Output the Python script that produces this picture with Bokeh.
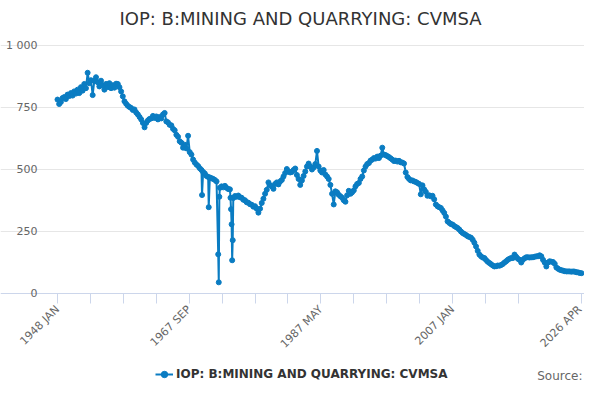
import math
from bokeh.plotting import figure
from bokeh.models import Range1d, FixedTicker, Legend, LegendItem, Label
from bokeh.embed import file_html
from bokeh.resources import INLINE

TITLE = "IOP: B:MINING AND QUARRYING: CVMSA"
SERIES_NAME = "IOP: B:MINING AND QUARRYING: CVMSA"
SOURCE_TEXT = "Source:"
START_YEAR = 1948

# Quarterly readings (Jan, Apr, Jul, Oct) from 1948 JAN to 2026 APR
quarterly_values = [
    782, 764, 772, 788,   # 1948
    792, 784, 802, 796,   # 1949
    808, 798, 815, 806,   # 1950
    822, 808, 832, 818,   # 1951
    845, 828, 890, 848,   # 1952
    860, 800, 858, 872,   # 1953
    852, 835, 858, 840,   # 1954
    822, 845, 832, 848,   # 1955
    828, 840, 830, 846,   # 1956
    845, 832, 815, 795,   # 1957
    775, 765, 757, 752,   # 1958
    748, 740, 742, 730,   # 1959
    722, 712, 702, 688,   # 1960
    670, 688, 698, 704,   # 1961
    706, 716, 708, 714,   # 1962
    702, 712, 706, 722,   # 1963
    728, 694, 690, 680,   # 1964
    678, 664, 658, 640,   # 1965
    632, 614, 608, 588,   # 1966
    600, 585, 636, 570,   # 1967
    560, 540, 528, 520,   # 1968
    514, 505, 498, 490,   # 1969
    484, 474, 470, 468,   # 1970
    465, 462, 458, 452,   # 1971
    158, 426, 432, 428,   # 1972
    434, 426, 421, 420,   # 1973
    279, 385, 393, 390,   # 1974
    395, 388, 386, 378,   # 1975
    376, 368, 366, 360,   # 1976
    358, 350, 352, 342,   # 1977
    326, 342, 365, 382,   # 1978
    402, 418, 448, 436,   # 1979
    432, 422, 442, 448,   # 1980
    440, 452, 458, 472,   # 1981
    486, 502, 492, 488,   # 1982
    490, 498, 504, 478,   # 1983
    462, 438, 456, 474,   # 1984
    492, 512, 524, 512,   # 1985
    500, 508, 522, 575,   # 1986
    512, 496, 488, 498,   # 1987
    480, 472, 462, 438,   # 1988
    402, 359, 412, 408,   # 1989
    398, 392, 386, 376,   # 1990
    370, 396, 414, 402,   # 1991
    408, 416, 432, 442,   # 1992
    446, 462, 472, 496,   # 1993
    512, 522, 526, 536,   # 1994
    540, 546, 544, 552,   # 1995
    546, 556, 588, 560,   # 1996
    558, 554, 550, 545,   # 1997
    540, 534, 536, 532,   # 1998
    535, 529, 528, 524,   # 1999
    488, 470, 462, 456,   # 2000
    456, 452, 450, 446,   # 2001
    442, 400, 436, 420,   # 2002
    410, 394, 396, 392,   # 2003
    394, 380, 359, 352,   # 2004
    348, 345, 335, 325,   # 2005
    310, 291, 285, 280,   # 2006
    278, 272, 268, 264,   # 2007
    258, 250, 244, 240,   # 2008
    236, 231, 228, 225,   # 2009
    217, 205, 190, 172,   # 2010
    157, 150, 145, 143,   # 2011
    135, 128, 123, 118,   # 2012
    113, 109, 110, 113,   # 2013
    112, 115, 119, 125,   # 2014
    130, 136, 140, 143,   # 2015
    143, 157, 148, 140,   # 2016
    136, 125, 136, 142,   # 2017
    146, 146, 145, 146,   # 2018
    146, 148, 150, 150,   # 2019
    154, 150, 136, 125,   # 2020
    109, 125, 130, 128,   # 2021
    127, 120, 105, 100,   # 2022
    96, 94, 92, 90,       # 2023
    89, 89, 89, 88,       # 2024
    89, 88, 86, 85,       # 2025
    83, 82,               # 2026
]

# Extra monthly readings around the strike months
detail_dates = ["1969-08", "1970-08", "1972-02", "1972-03",
                "1973-11", "1973-12", "1974-02", "1974-03"]
detail_values = [397, 348, 45, 390, 386, 340, 134, 215]

month_names = ["JAN", "FEB", "MAR", "APR", "MAY", "JUN",
               "JUL", "AUG", "SEP", "OCT", "NOV", "DEC"]
x_label_dates = ["1948 JAN", "1967 SEP", "1987 MAY", "2007 JAN", "2026 APR"]
x_tick_step = 59
y_ticks = [0, 250, 500, 750, 1000]
y_tick_labels = ["0", "250", "500", "750", "1 000"]

COLOR = "#0a7cc2"
FONT = "DejaVu Sans"

# ---- layout (figure pixels, top-left origin); frame fills the figure ----
FIG_W, FIG_H = 584, 384
PLOT_LEFT_PX, PLOT_RIGHT_PX = 57, 581       # first / last month
PLOT_TOP_PX, PLOT_ZERO_PX = 45, 293         # value 1000 / value 0


def month_index(year, month):
    return (year - START_YEAR) * 12 + (month - 1)


series = {3 * i: v for i, v in enumerate(quarterly_values)}
for d, v in zip(detail_dates, detail_values):
    yr, mo = d.split("-")
    series[month_index(int(yr), int(mo))] = v
xs = sorted(series)
ys = [series[k] for k in xs]
last_idx = 3 * (len(quarterly_values) - 1)

px_per_month = (PLOT_RIGHT_PX - PLOT_LEFT_PX) / last_idx
px_per_unit = (PLOT_ZERO_PX - PLOT_TOP_PX) / 1000.0
x_lo = -PLOT_LEFT_PX / px_per_month
x_hi = last_idx + (FIG_W - PLOT_RIGHT_PX) / px_per_month
y_lo = -(FIG_H - PLOT_ZERO_PX) / px_per_unit
y_hi = PLOT_ZERO_PX / px_per_unit

label_idx = []
for s in x_label_dates:
    yr, mn = s.split()
    label_idx.append(month_index(int(yr), month_names.index(mn) + 1))
x_ticks = list(range(0, last_idx - x_tick_step + 1, x_tick_step)) + [last_idx]
x_overrides = {t: "" for t in x_ticks}
for t, s in zip(label_idx, x_label_dates):
    x_overrides[t] = s

p = figure(frame_width=FIG_W, frame_height=FIG_H,
           x_range=Range1d(x_lo, x_hi), y_range=Range1d(y_lo, y_hi),
           output_backend="svg", toolbar_location=None,
           min_border_left=0, min_border_right=0,
           min_border_top=0, min_border_bottom=0)
p.title.visible = False
p.outline_line_color = None
p.background_fill_color = "white"
p.border_fill_color = "white"

xa = p.xaxis[0]
xa.fixed_location = 0
xa.ticker = FixedTicker(ticks=x_ticks)
xa.major_label_overrides = x_overrides
xa.major_label_orientation = math.pi / 4
xa.major_label_text_font = FONT
xa.major_label_text_font_size = "11px"
xa.major_label_text_color = "#666666"
xa.axis_line_color = "#ccd6eb"
xa.major_tick_line_color = "#ccd6eb"
xa.major_tick_in = 0
xa.major_tick_out = 10
xa.minor_tick_line_color = None
xa.major_label_standoff = 4

ya = p.yaxis[0]
ya.fixed_location = 0
ya.ticker = FixedTicker(ticks=y_ticks)
ya.major_label_overrides = {t: s for t, s in zip(y_ticks, y_tick_labels)}
ya.major_label_text_font = FONT
ya.major_label_text_font_size = "11px"
ya.major_label_text_color = "#666666"
ya.axis_line_color = None
ya.major_tick_line_color = None
ya.minor_tick_line_color = None
ya.major_label_standoff = 14

p.xgrid.grid_line_color = None
p.ygrid.grid_line_color = "#e6e6e6"
p.ygrid.ticker = FixedTicker(ticks=y_ticks[1:])
p.ygrid.bounds = (0, last_idx)

ln = p.line(xs, ys, line_color=COLOR, line_width=2)
sc = p.scatter(xs, ys, size=5, fill_color=COLOR, line_color=COLOR)

# title, legend and source in frame-relative screen units (y up from bottom)
title = Label(x=300, y=FIG_H - 18,
              x_units="screen", y_units="screen", text=TITLE,
              text_align="center", text_baseline="middle",
              text_font=FONT, text_font_size="18px", text_color="#333333")
p.add_layout(title)

legend = Legend(items=[LegendItem(label=SERIES_NAME, renderers=[ln, sc])],
                location=(155, FIG_H - 384),
                orientation="horizontal",
                border_line_color=None, background_fill_alpha=0,
                label_text_font=FONT, label_text_font_size="12px",
                label_text_font_style="bold", label_text_color="#333333",
                glyph_width=18, glyph_height=16, label_height=20,
                label_standoff=3, padding=0, margin=0, spacing=0)
p.add_layout(legend, "center")

src = Label(x=582, y=FIG_H - 382,
            x_units="screen", y_units="screen",
            text=SOURCE_TEXT, text_align="right", text_baseline="bottom",
            text_font=FONT, text_font_size="12px", text_color="#666666")
p.add_layout(src)

open("out.html", "w").write(file_html(p, INLINE))
